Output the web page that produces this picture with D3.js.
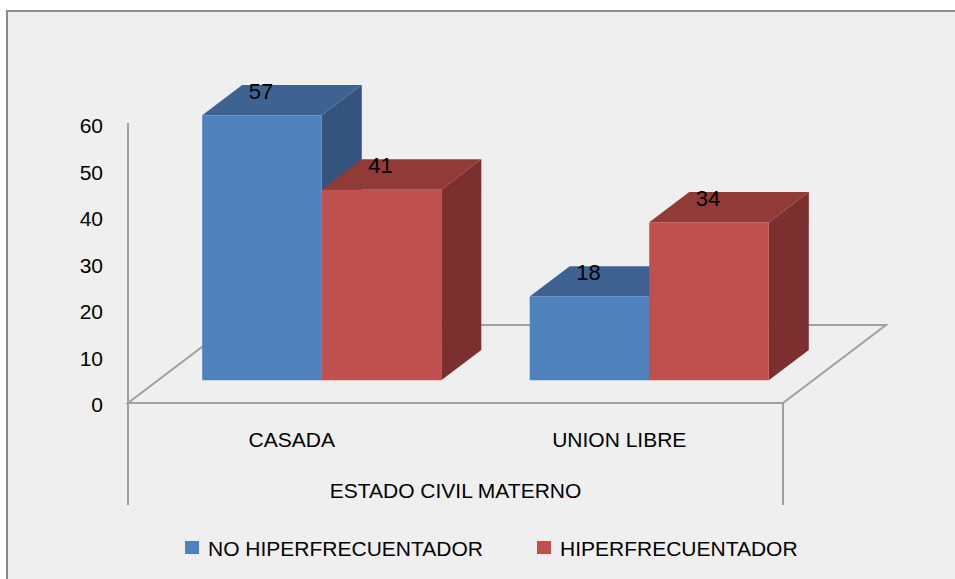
<!DOCTYPE html>
<html>
<head>
<meta charset="utf-8">
<script src="https://cdn.jsdelivr.net/npm/d3@7"></script>
<style>
    body { margin: 0; background: #fff; }
    text { font-family: "Liberation Sans", Arial, sans-serif; fill: #000; }
</style>
</head>
<body>
<div id="chart"></div>
<script>
const categories = ['CASADA', 'UNION LIBRE'];
const seriesNames = ['NO HIPERFRECUENTADOR', 'HIPERFRECUENTADOR'];
const noHiperValues = [57, 18];
const hiperValues = [41, 34];
const yTicks = [0, 10, 20, 30, 40, 50, 60];
const groupLabel = 'ESTADO CIVIL MATERNO';

const svgWidth = 955;
const svgHeight = 579;

// depth of the floor and the bars, in px along the oblique axis
const floorDepth = 103;
const barFront = 30;
const barBack = 70;
const slope = 0.757;

const colors = [
    { front: '#4f81bd', top: '#3e6392', side: '#34547d' },
    { front: '#c0504d', top: '#923a38', side: '#7b2f2e' }
];

const svg = d3.select('#chart').append('svg')
    .attr('width', svgWidth)
    .attr('height', svgHeight);

// frame
svg.append('rect')
    .attr('x', 7).attr('y', 11)
    .attr('width', 1000).attr('height', 700)
    .attr('fill', '#efefef')
    .attr('stroke', '#8a8a8a')
    .attr('stroke-width', 2);

const y = d3.scaleLinear().domain([0, 60]).range([403, 124]);

const x0 = d3.scaleBand()
    .domain(categories)
    .range([128, 783])
    .paddingInner(0.27)
    .paddingOuter(0.135);

const x1 = d3.scaleBand()
    .domain(seriesNames)
    .range([0, x0.bandwidth()]);

const proj = (x, v, z) => [x + z, y(v) - z * slope];

const lineColor = '#a0a0a0';

// floor
const floor = [
    proj(128, 0, 0), proj(783, 0, 0),
    proj(783, 0, floorDepth), proj(128, 0, floorDepth)
];
svg.append('polygon')
    .attr('points', floor.join(' '))
    .attr('fill', 'none')
    .attr('stroke', lineColor)
    .attr('stroke-width', 2);

// value axis + group separators
svg.append('line')
    .attr('x1', 128).attr('x2', 128)
    .attr('y1', y(60) - 1).attr('y2', 505)
    .attr('stroke', lineColor).attr('stroke-width', 2);

svg.append('line')
    .attr('x1', 783).attr('x2', 783)
    .attr('y1', y(0)).attr('y2', 505)
    .attr('stroke', lineColor).attr('stroke-width', 2);

svg.selectAll('.ytick')
    .data(yTicks)
    .enter()
    .append('text')
    .attr('class', 'ytick')
    .attr('x', 103)
    .attr('y', d => y(d) + 2)
    .attr('dy', '0.35em')
    .attr('text-anchor', 'end')
    .style('font-size', '21px')
    .text(d => d);

// bars
const data = [];
categories.forEach((c, i) => {
    data.push({ cat: c, s: 0, value: noHiperValues[i] });
    data.push({ cat: c, s: 1, value: hiperValues[i] });
});

const bars = svg.selectAll('.bar')
    .data(data)
    .enter()
    .append('g')
    .attr('class', 'bar');

bars.each(function(d) {
    const g = d3.select(this);
    const xl = x0(d.cat) + x1(seriesNames[d.s]);
    const xr = xl + x1.bandwidth();
    const c = colors[d.s];

    const fTL = proj(xl, d.value, barFront);
    const fTR = proj(xr, d.value, barFront);
    const fBR = proj(xr, 0, barFront);
    const fBL = proj(xl, 0, barFront);
    const bTL = proj(xl, d.value, barBack);
    const bTR = proj(xr, d.value, barBack);
    const bBR = proj(xr, 0, barBack);

    g.append('polygon')
        .attr('points', [fTR, bTR, bBR, fBR].join(' '))
        .attr('fill', c.side);
    g.append('polygon')
        .attr('points', [fTL, bTL, bTR, fTR].join(' '))
        .attr('fill', c.top);
    g.append('polygon')
        .attr('points', [fTL, fTR, fBR, fBL].join(' '))
        .attr('fill', c.front);
});

// data labels
svg.selectAll('.label')
    .data(data)
    .enter()
    .append('text')
    .attr('class', 'label')
    .attr('x', d => proj(x0(d.cat) + x1(seriesNames[d.s]) + x1.bandwidth() / 2, d.value, barFront)[0] - 1)
    .attr('y', d => proj(0, d.value, barFront)[1] - 24)
    .attr('dy', '0.35em')
    .attr('text-anchor', 'middle')
    .style('font-size', '22px')
    .text(d => d.value);

// category labels
svg.selectAll('.cat')
    .data(categories)
    .enter()
    .append('text')
    .attr('class', 'cat')
    .attr('x', d => x0(d) + x0.bandwidth() / 2)
    .attr('y', 440)
    .attr('dy', '0.35em')
    .attr('text-anchor', 'middle')
    .style('font-size', '21px')
    .text(d => d);

svg.append('text')
    .attr('x', (128 + 783) / 2)
    .attr('y', 491)
    .attr('dy', '0.35em')
    .attr('text-anchor', 'middle')
    .style('font-size', '21px')
    .text(groupLabel);

// legend
const legendX = [185, 537];
const legend = svg.selectAll('.legend')
    .data(seriesNames)
    .enter()
    .append('g')
    .attr('class', 'legend')
    .attr('transform', (d, i) => `translate(${legendX[i]},541)`);

legend.append('rect')
    .attr('width', 14)
    .attr('height', 13)
    .attr('fill', (d, i) => colors[i].front);

legend.append('text')
    .attr('x', 23)
    .attr('y', 8)
    .attr('dy', '0.35em')
    .style('font-size', '21px')
    .text(d => d);
</script>
</body>
</html>
